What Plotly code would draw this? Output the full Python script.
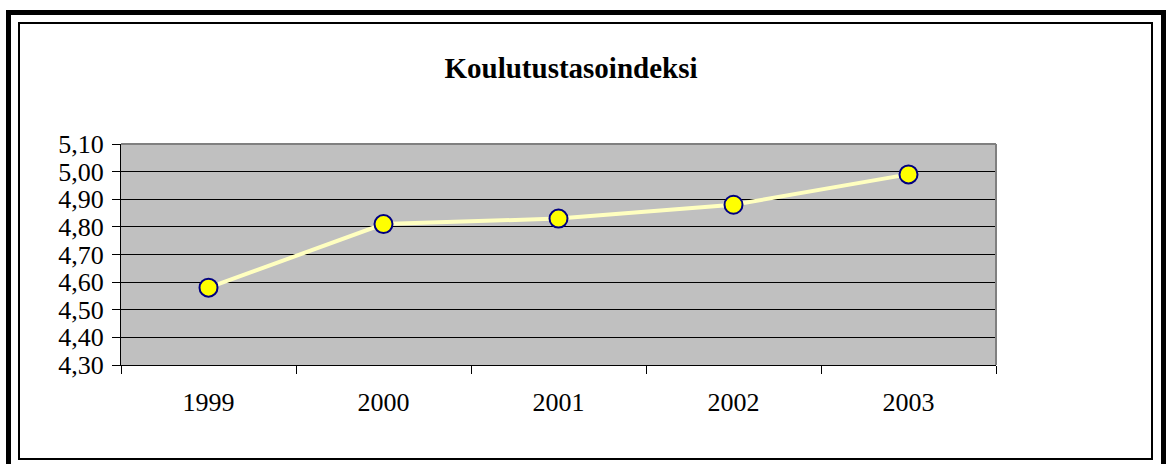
import plotly.graph_objects as go

years = ["1999", "2000", "2001", "2002", "2003"]
values = [4.58, 4.81, 4.83, 4.88, 4.99]
ytickvals = [4.30, 4.40, 4.50, 4.60, 4.70, 4.80, 4.90, 5.00, 5.10]
yticktext = ["4,30", "4,40", "4,50", "4,60", "4,70", "4,80", "4,90", "5,00", "5,10"]
title_text = "Koulutustasoindeksi"

W, H = 1167, 464
L, R, T, B = 121, 996, 144, 365
pw, ph = R - L, B - T
FONT = "'Times New Roman', 'Liberation Serif', Times, serif"

def px(x):
    return (x - L) / pw

def py(y):
    return (B - y) / ph

fig = go.Figure()
fig.add_trace(go.Scatter(
    x=years, y=values, mode="lines+markers",
    line=dict(color="#FFFFC0", width=4),
    marker=dict(size=18, color="#FFFF00", line=dict(color="#000080", width=2)),
    showlegend=False, cliponaxis=False,
))

shapes = [
    dict(type="line", xref="paper", yref="paper", x0=0, x1=1, y0=1, y1=1,
         line=dict(color="#808080", width=2), layer="above"),
    dict(type="line", xref="paper", yref="paper", x0=1, x1=1, y0=0, y1=1,
         line=dict(color="#808080", width=2), layer="above"),
    dict(type="rect", xref="paper", yref="paper",
         x0=px(8.5), x1=px(1163.5), y0=py(475), y1=py(12.5),
         line=dict(color="black", width=5)),
    dict(type="rect", xref="paper", yref="paper",
         x0=px(19), x1=px(1152), y0=py(459), y1=py(23),
         line=dict(color="black", width=2)),
]

fig.update_layout(
    width=W, height=H,
    margin=dict(l=L, r=W - R, t=T, b=H - B),
    paper_bgcolor="white",
    plot_bgcolor="#C0C0C0",
    font=dict(family=FONT, color="black", size=26),
    title=dict(text="<b>" + title_text + "</b>", x=571 / W, xanchor="center",
               y=1 - 68 / H, yanchor="middle",
               font=dict(size=29, family=FONT, color="black")),
    shapes=shapes,
    xaxis=dict(
        type="category", range=[-0.5, 4.5], tickson="boundaries",
        ticks="outside", ticklen=8, tickcolor="black", tickwidth=1,
        showline=True, linecolor="black", linewidth=1,
        showgrid=False, zeroline=False,
        tickfont=dict(size=26, family=FONT), ticklabelstandoff=14,
    ),
    yaxis=dict(
        range=[4.30, 5.10], tickvals=ytickvals, ticktext=yticktext,
        ticks="outside", ticklen=8, tickcolor="black", tickwidth=1,
        showline=True, linecolor="black", linewidth=1,
        showgrid=True, gridcolor="black", gridwidth=1, zeroline=False,
        tickfont=dict(size=26, family=FONT), ticklabelstandoff=3,
    ),
)

fig.write_html("out.html", config={"displayModeBar": False},
               post_script="document.body.style.margin='0';document.body.style.overflow='hidden';")
